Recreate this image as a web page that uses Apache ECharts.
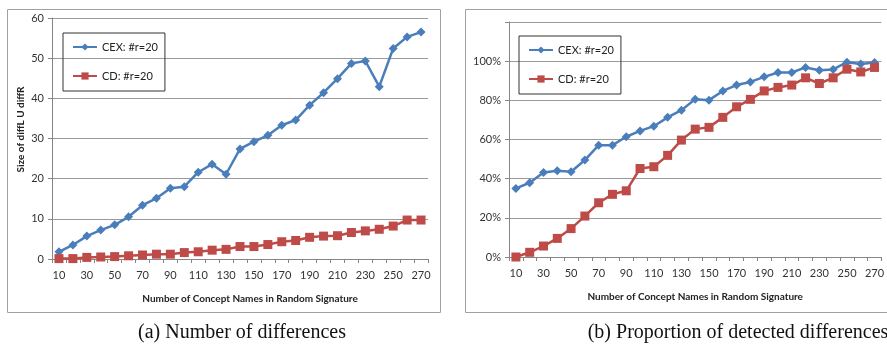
<!DOCTYPE html>
<html>
<head>
<meta charset="utf-8">
<script src="https://cdn.jsdelivr.net/npm/echarts@6/dist/echarts.min.js"></script>
<style>
html,body{margin:0;padding:0;background:#fff;}
#c{width:887px;height:348px;}
</style>
</head>
<body>
<div id="c"></div>
<script>
const categories = [10,20,30,40,50,60,70,80,90,100,110,120,130,140,150,160,170,180,190,200,210,220,230,240,250,260,270];
const diffCEX = [1.8,3.5,5.7,7.2,8.5,10.5,13.4,15.1,17.6,18.0,21.6,23.6,21.1,27.4,29.2,30.8,33.3,34.6,38.3,41.4,44.9,48.7,49.3,42.9,52.4,55.3,56.5];
const diffCD = [0.1,0.1,0.4,0.5,0.6,0.8,1.0,1.2,1.2,1.6,1.8,2.2,2.4,3.1,3.1,3.6,4.3,4.6,5.4,5.7,5.8,6.6,7.0,7.4,8.2,9.7,9.7];
const propCEX = [35.0,37.9,43.2,44.0,43.5,49.5,57.1,57.1,61.4,64.4,66.8,71.3,75.0,80.5,80.1,84.8,87.8,89.4,92.0,94.2,94.2,96.8,95.4,95.8,99.5,98.5,99.3];
const propCD = [0,2.4,5.6,9.5,14.5,20.9,27.7,32.0,33.8,45.2,46.1,51.9,59.7,65.3,66.2,71.3,76.7,80.5,84.8,86.6,87.8,91.5,88.6,91.5,95.9,94.5,96.8];
const seriesNames = ['CEX: #r=20', 'CD: #r=20'];
const xTitle = 'Number of Concept Names in Random Signature';
const yTitleLeft = 'Size of diffL U diffR';
const captions = ['(a) Number of differences', '(b) Proportion of detected differences'];

const BLUE = '#4a7ebb', RED = '#be4b48';
const FONT = 'Lato, "Open Sans", sans-serif';
const GRID = '#9a9a9a';

function xAxisCfg(gridIndex, padLeft) {
  return {
    type: 'category', gridIndex, data: categories, boundaryGap: true,
    axisLine: {lineStyle: {color: '#868686', width: 1}},
    axisTick: {show: true, interval: 0, length: 4, lineStyle: {color: '#868686'}},
    axisLabel: {interval: 1, color: '#333', fontFamily: FONT, fontSize: 11, margin: 11},
    name: xTitle, nameLocation: 'middle', nameGap: 35,
    nameTextStyle: {fontFamily: FONT, fontWeight: 'bold', fontSize: 10, color: '#222', padding: [0,0,0,padLeft]}
  };
}
function yAxisCfg(gridIndex, max, fmt, name) {
  return {
    type: 'value', gridIndex, min: 0, max: max, interval: max / 6,
    axisLine: {show: true, lineStyle: {color: '#868686', width: 1}},
    axisTick: {show: true, length: 4, lineStyle: {color: '#868686'}},
    splitLine: {show: true, lineStyle: {color: GRID, width: 1}},
    axisLabel: {color: '#333', fontFamily: FONT, fontSize: 11, margin: 8, formatter: fmt},
    name: name || '', nameLocation: 'middle', nameGap: 26,
    nameTextStyle: {fontFamily: FONT, fontWeight: 'bold', fontSize: 10, color: '#222', padding: [0,0,0,18]}
  };
}
function lineSeries(name, data, xi, yi, symbol, size, color) {
  return {
    type: 'line', name, data, xAxisIndex: xi, yAxisIndex: yi,
    symbol, symbolSize: size, showSymbol: true,
    lineStyle: {color, width: 2.5}, itemStyle: {color},
    emphasis: {disabled: true}, animation: false
  };
}
function legendCfg(left, top) {
  return {
    data: seriesNames, orient: 'vertical', left, top,
    itemWidth: 24, itemHeight: 9, itemGap: 15,
    padding: [7,7,8,9], borderColor: '#333', borderWidth: 1,
    textStyle: {fontFamily: FONT, fontSize: 11, color: '#222', lineHeight: 14},
    selectedMode: false
  };
}

const chart = echarts.init(document.getElementById('c'), null, {renderer: 'canvas'});
chart.setOption({
  animation: false,
  backgroundColor: '#fff',
  grid: [
    {left: 52, right: 459, top: 18, bottom: 89},
    {left: 509, right: 0, top: 22, bottom: 91}
  ],
  xAxis: [xAxisCfg(0, 20), xAxisCfg(1, 0)],
  yAxis: [
    yAxisCfg(0, 60, v => String(v), yTitleLeft),
    yAxisCfg(1, 120, v => (v >= 120 ? '' : v + '%'))
  ],
  legend: [legendCfg(63, 33), legendCfg(519, 36)],
  series: [
    lineSeries(seriesNames[0], diffCEX, 0, 0, 'diamond', 9, BLUE),
    lineSeries(seriesNames[1], diffCD, 0, 0, 'rect', 9, RED),
    lineSeries(seriesNames[0], propCEX, 1, 1, 'diamond', 9, BLUE),
    lineSeries(seriesNames[1], propCD, 1, 1, 'rect', 9, RED)
  ],
  graphic: [
    {type: 'rect', shape: {x: 7.5, y: 9.5, width: 433, height: 303}, style: {fill: 'none', stroke: '#a0a0a0', lineWidth: 1}, z: -1, silent: true},
    {type: 'rect', shape: {x: 465.5, y: 9.5, width: 440, height: 303}, style: {fill: 'none', stroke: '#a0a0a0', lineWidth: 1}, z: -1, silent: true},
    {type: 'text', x: 242, y: 333, style: {text: captions[0], font: '20px "Liberation Serif", serif', fill: '#111', align: 'center', verticalAlign: 'middle'}},
    {type: 'text', x: 738, y: 333, style: {text: captions[1], font: '20px "Liberation Serif", serif', fill: '#111', align: 'center', verticalAlign: 'middle'}}
  ]
});
</script>
</body>
</html>
